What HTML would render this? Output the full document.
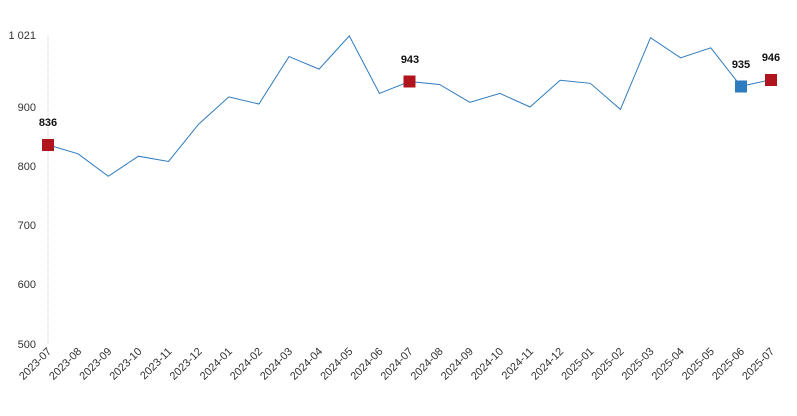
<!DOCTYPE html>
<html><head><meta charset="utf-8"><style>
body{margin:0;background:#fff;}
svg{display:block;font-family:"Liberation Sans",sans-serif;}
</style></head><body>
<svg width="797" height="416" viewBox="0 0 797 416">
<line x1="48" y1="35" x2="48" y2="344" stroke="#ccc" stroke-dasharray="1,1"/>
<g font-size="11" fill="#333" text-anchor="end">
<text x="36" y="39">1 021</text>
<text x="36" y="111">900</text>
<text x="36" y="170">800</text>
<text x="36" y="229">700</text>
<text x="36" y="288">600</text>
<text x="36" y="348">500</text>
</g>
<polyline fill="none" stroke="#2f7bbf" stroke-width="1" points="48,144.9 78.1,153.8 108.3,176.3 138.4,156.2 168.5,161.5 198.6,124.2 228.8,96.9 258.9,104 289,56.6 319.1,69.1 349.3,35.9 379.4,93.4 409.5,81.5 439.6,84.5 469.8,102.3 499.9,93.4 530,107 560.1,80.3 590.3,83.3 620.4,109.4 650.5,37.7 680.6,57.8 710.8,47.8 740.9,86.3 771,79.7"/>
<rect x="42" y="139" width="12" height="12" fill="#b0141c"/>
<rect x="403.5" y="75.5" width="12" height="12" fill="#b0141c"/>
<rect x="735" y="80.5" width="12" height="12" fill="#2f7bbf"/>
<rect x="765" y="74" width="12" height="12" fill="#b0141c"/>
<g font-size="11" font-weight="bold" fill="#111" text-anchor="middle">
<text x="48" y="126">836</text>
<text x="410" y="63">943</text>
<text x="741" y="68">935</text>
<text x="771" y="61">946</text>
</g>
<g font-size="11" fill="#333" text-anchor="end">
<text transform="translate(52,352) rotate(-45)">2023-07</text>
<text transform="translate(82.1,352) rotate(-45)">2023-08</text>
<text transform="translate(112.3,352) rotate(-45)">2023-09</text>
<text transform="translate(142.4,352) rotate(-45)">2023-10</text>
<text transform="translate(172.5,352) rotate(-45)">2023-11</text>
<text transform="translate(202.6,352) rotate(-45)">2023-12</text>
<text transform="translate(232.8,352) rotate(-45)">2024-01</text>
<text transform="translate(262.9,352) rotate(-45)">2024-02</text>
<text transform="translate(293,352) rotate(-45)">2024-03</text>
<text transform="translate(323.1,352) rotate(-45)">2024-04</text>
<text transform="translate(353.3,352) rotate(-45)">2024-05</text>
<text transform="translate(383.4,352) rotate(-45)">2024-06</text>
<text transform="translate(413.5,352) rotate(-45)">2024-07</text>
<text transform="translate(443.6,352) rotate(-45)">2024-08</text>
<text transform="translate(473.8,352) rotate(-45)">2024-09</text>
<text transform="translate(503.9,352) rotate(-45)">2024-10</text>
<text transform="translate(534,352) rotate(-45)">2024-11</text>
<text transform="translate(564.1,352) rotate(-45)">2024-12</text>
<text transform="translate(594.3,352) rotate(-45)">2025-01</text>
<text transform="translate(624.4,352) rotate(-45)">2025-02</text>
<text transform="translate(654.5,352) rotate(-45)">2025-03</text>
<text transform="translate(684.6,352) rotate(-45)">2025-04</text>
<text transform="translate(714.8,352) rotate(-45)">2025-05</text>
<text transform="translate(744.9,352) rotate(-45)">2025-06</text>
<text transform="translate(775,352) rotate(-45)">2025-07</text>
</g>
</svg>
</body></html>
